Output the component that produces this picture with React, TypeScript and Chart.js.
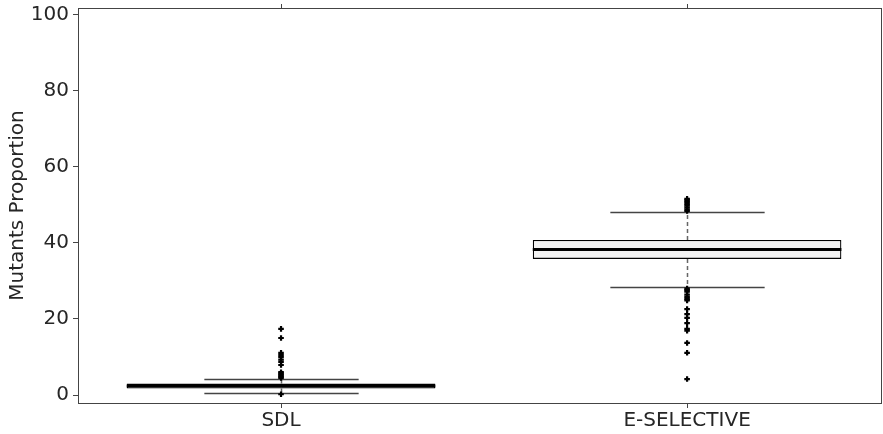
import React, { useEffect, useRef } from "react";
import { Chart, registerables } from "chart.js";

Chart.register(...registerables);

const categories = ["SDL", "E-SELECTIVE"];
const q1Values = [1.7, 35.8];
const medianValues = [2.35, 38.3];
const q3Values = [3.0, 40.8];
const whiskerLow = [0.4, 28.3];
const whiskerHigh = [4.3, 48.2];
const outliersSDL = [17.4, 15.0, 11.1, 10.5, 10.0, 9.3, 8.7, 7.9, 6.0, 5.7, 5.4, 5.1, 4.8, 4.5, 0.2];
const outliersESelective = [
  51.6, 51.2, 50.8, 50.3, 49.8, 49.3, 48.8, 48.4, 28.0, 27.6, 27.2, 26.4, 25.8, 25.3, 24.9,
  22.6, 21.3, 20.3, 18.9, 17.4, 16.9, 13.7, 11.1, 4.2,
];
const yTicks = [0, 20, 40, 60, 80, 100];

const FONT = "'DejaVu Sans', sans-serif";
const TEXT = "#262626";
const BOX_FRACTION = 0.76;
const CAP_FRACTION = 0.38;

const boxPlugin = {
  id: "boxParts",
  beforeDatasetsDraw(chart: any) {
    const { ctx } = chart;
    const x = chart.scales.x;
    const y = chart.scales.y;
    const unit = x.getPixelForValue(1) - x.getPixelForValue(0);
    ctx.save();
    categories.forEach((c, i) => {
      const cx = Math.round(x.getPixelForValue(i)) + 0.5;
      ctx.strokeStyle = "#666";
      ctx.lineWidth = 1.5;
      ctx.setLineDash([4, 3]);
      ctx.beginPath();
      ctx.moveTo(cx, y.getPixelForValue(q3Values[i]));
      ctx.lineTo(cx, y.getPixelForValue(whiskerHigh[i]));
      ctx.moveTo(cx, y.getPixelForValue(q1Values[i]));
      ctx.lineTo(cx, y.getPixelForValue(whiskerLow[i]));
      ctx.stroke();
      ctx.setLineDash([]);
      const half = (unit * CAP_FRACTION) / 2;
      ctx.strokeStyle = "#444";
      ctx.lineWidth = 1.3;
      ctx.beginPath();
      [whiskerHigh[i], whiskerLow[i]].forEach((v) => {
        const py = Math.round(y.getPixelForValue(v)) + 0.5;
        ctx.moveTo(cx - half, py);
        ctx.lineTo(cx + half, py);
      });
      ctx.stroke();
    });
    ctx.restore();
  },
  afterDatasetDraw(chart: any, args: any) {
    if (args.index !== 0) return;
    const { ctx } = chart;
    const y = chart.scales.y;
    const meta = chart.getDatasetMeta(0);
    ctx.save();
    ctx.strokeStyle = "#000";
    ctx.lineWidth = 3;
    meta.data.forEach((bar: any, i: number) => {
      const props = bar.getProps(["x", "width"], true);
      const py = y.getPixelForValue(medianValues[i]);
      ctx.beginPath();
      ctx.moveTo(props.x - props.width / 2, py);
      ctx.lineTo(props.x + props.width / 2, py);
      ctx.stroke();
    });
    ctx.restore();
  },
  afterDraw(chart: any) {
    const { ctx, chartArea } = chart;
    const x = chart.scales.x;
    ctx.save();
    ctx.strokeStyle = "#444";
    ctx.lineWidth = 1;
    ctx.strokeRect(
      Math.round(chartArea.left) + 0.5,
      Math.round(chartArea.top) + 0.5,
      Math.round(chartArea.right - chartArea.left) - 1,
      Math.round(chartArea.bottom - chartArea.top)
    );
    ctx.beginPath();
    categories.forEach((c, i) => {
      const px = Math.round(x.getPixelForValue(i)) + 0.5;
      ctx.moveTo(px, chartArea.top);
      ctx.lineTo(px, chartArea.top - 4);
    });
    ctx.stroke();
    ctx.restore();
  },
};

export default function App() {
  const ref = useRef<HTMLCanvasElement | null>(null);
  useEffect(() => {
    document.body.style.margin = "0";
    const canvas = ref.current;
    if (!canvas) return;
    const chart = new Chart(canvas, {
      type: "bar",
      data: {
        datasets: [
          {
            type: "bar",
            data: categories.map((c, i) => ({ x: i, y: [q1Values[i], q3Values[i]] })) as any,
            backgroundColor: "#f2f2f2",
            borderColor: "#000",
            borderWidth: 1.3,
            borderSkipped: false,
            barPercentage: BOX_FRACTION,
            categoryPercentage: 1,
            order: 2,
          } as any,
          {
            type: "scatter",
            data: [
              ...outliersSDL.map((v) => ({ x: categories.indexOf("SDL"), y: v })),
              ...outliersESelective.map((v) => ({ x: categories.indexOf("E-SELECTIVE"), y: v })),
            ] as any,
            pointStyle: "cross",
            radius: 2.8,
            borderWidth: 2.2,
            borderColor: "#000",
            backgroundColor: "#000",
            showLine: false,
            order: 1,
          } as any,
        ],
      },
      options: {
        animation: false,
        responsive: false,
        maintainAspectRatio: false,
        layout: { autoPadding: false, padding: { top: 8, right: 1, left: 0, bottom: 0 } },
        plugins: { legend: { display: false }, tooltip: { enabled: false } },
        scales: {
          x: {
            type: "linear",
            min: -0.5,
            max: 1.48,
            offset: false,
            grid: { display: true, drawOnChartArea: false, tickLength: 5, color: "#444", offset: false },
            border: { display: false },
            afterBuildTicks: (s: any) => {
              s.ticks = categories.map((c, i) => ({ value: i }));
            },
            ticks: {
              color: TEXT,
              font: { family: FONT, size: 20 },
              padding: 1,
              maxRotation: 0,
              autoSkip: false,
              callback: (v: any) => categories[v] ?? "",
            },
            afterFit: (s: any) => {
              s.height = 31;
              s.paddingLeft = 0;
              s.paddingRight = 0;
            },
          },
          y: {
            type: "linear",
            min: -2.1,
            max: 101.8,
            grid: { display: true, drawOnChartArea: false, tickLength: 5, color: "#444" },
            border: { display: false },
            afterBuildTicks: (s: any) => {
              s.ticks = yTicks.map((v) => ({ value: v }));
            },
            ticks: { color: TEXT, font: { family: FONT, size: 20 }, padding: 4, includeBounds: false },
            title: {
              display: true,
              text: "Mutants Proportion",
              color: TEXT,
              font: { family: FONT, size: 20 },
              padding: { top: 6, bottom: 0 },
            },
            afterFit: (s: any) => {
              s.width = 78;
              s.paddingTop = 0;
              s.paddingBottom = 0;
            },
          },
        },
      } as any,
      plugins: [boxPlugin],
    });
    return () => chart.destroy();
  }, []);
  return (
    <div style={{ width: 883, height: 434 }}>
      <canvas ref={ref} width={883} height={434} style={{ width: 883, height: 434, display: "block" }} />
    </div>
  );
}
